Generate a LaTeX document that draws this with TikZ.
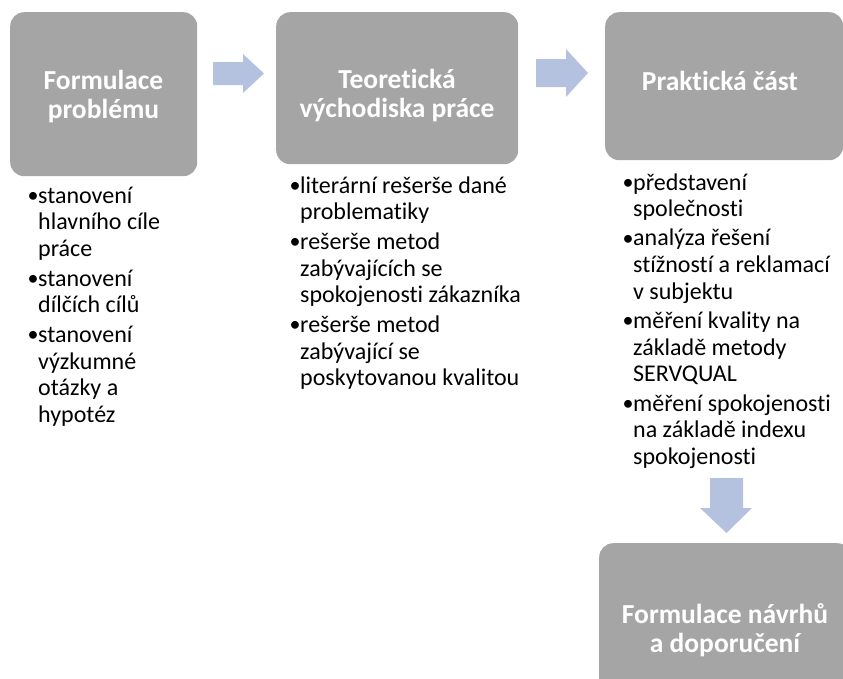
\documentclass[tikz,border=0pt]{standalone}
\usepackage{fontspec}
\setmainfont{Carlito}[Ligatures={NoCommon}]
\definecolor{boxgray}{HTML}{A5A5A5}
\definecolor{arrowblue}{HTML}{B4C2E0}
\tikzset{
  stagebox/.style={fill=boxgray, draw=none, rounded corners=14pt, inner sep=0pt, anchor=north west},
  stagetitle/.style={text=white, font=\fontsize{27.5}{29.5}\selectfont\bfseries, inner sep=0pt, anchor=base},
  bullets/.style={font=\fontsize{24}{26.7}\selectfont, inner sep=0pt, anchor=base west, text=black},
  blockarrow/.style={fill=arrowblue, draw=none}
}
\newcommand\bl{\makebox[10pt][l]{\hspace{-0.5pt}\raisebox{0.6pt}{\fontsize{22}{22}\selectfont•}}}
\begin{document}
\begin{tikzpicture}[x=1pt,y=-1pt]
\useasboundingbox (0,0) rectangle (843,678);
\clip (0,0) rectangle (843,678);
% boxes
\node[stagebox, minimum width=187pt, minimum height=164pt] (b1) at (10,12) {};
\node[stagebox, minimum width=242pt, minimum height=152pt] (b2) at (276,12) {};
\node[stagebox, minimum width=238pt, minimum height=148pt] (b3) at (605,12) {};
\node[stagebox, minimum width=252pt, minimum height=160pt] (b4) at (599,543) {};
% titles
\node[stagetitle] (t1) at (103.5,89) {\begin{tabular}[t]{@{}c@{}}Formulace\\problému\end{tabular}};
\node[stagetitle] (t2) at (397,88) {\begin{tabular}[t]{@{}c@{}}Teoretická\\východiska práce\end{tabular}};
\node[stagetitle] (t3) at (720,90) {Praktická část};
\node[stagetitle] (t4) at (725,623) {\begin{tabular}[t]{@{}c@{}}Formulace návrhů\\a doporučení\end{tabular}};
% arrows
\fill[blockarrow] (213,62) -- (243,62) -- (243,54) -- (264,73.5) -- (243,93) -- (243,85) -- (213,85) -- cycle;
\fill[blockarrow] (536,59) -- (566,59) -- (566,49) -- (588,73) -- (566,97) -- (566,87) -- (536,87) -- cycle;
\fill[blockarrow] (710,478) -- (743,478) -- (743,508) -- (752,508) -- (726.5,533) -- (700,508) -- (710,508) -- cycle;
% bullet lists
\node[bullets] (l1) at (28,203) {\begin{tabular}[t]{@{}l@{}l@{}}
\bl & stanovení\\ & hlavního cíle\\ & práce\\[3pt]
\bl & stanovení\\ & dílčích cílů\\[3pt]
\bl & stanovení\\ & výzkumné\\ & otázky a\\ & hypotéz
\end{tabular}};
\node[bullets] (l2) at (290,193) {\begin{tabular}[t]{@{}l@{}l@{}}
\bl & literární rešerše dané\\ & problematiky\\[3pt]
\bl & rešerše metod\\ & zabývajících se\\ & spokojenosti zákazníka\\[3pt]
\bl & rešerše metod\\ & zabývající se\\ & poskytovanou kvalitou
\end{tabular}};
\node[bullets] (l3) at (623,190) {\begin{tabular}[t]{@{}l@{}l@{}}
\bl & představení\\ & společnosti\\[2.5pt]
\bl & analýza řešení\\ & stížností a reklamací\\ & v subjektu\\[2.5pt]
\bl & měření kvality na\\ & základě metody\\ & SERVQUAL\\[2.5pt]
\bl & měření spokojenosti\\ & na základě indexu\\ & spokojenosti
\end{tabular}};
\end{tikzpicture}
\end{document}
